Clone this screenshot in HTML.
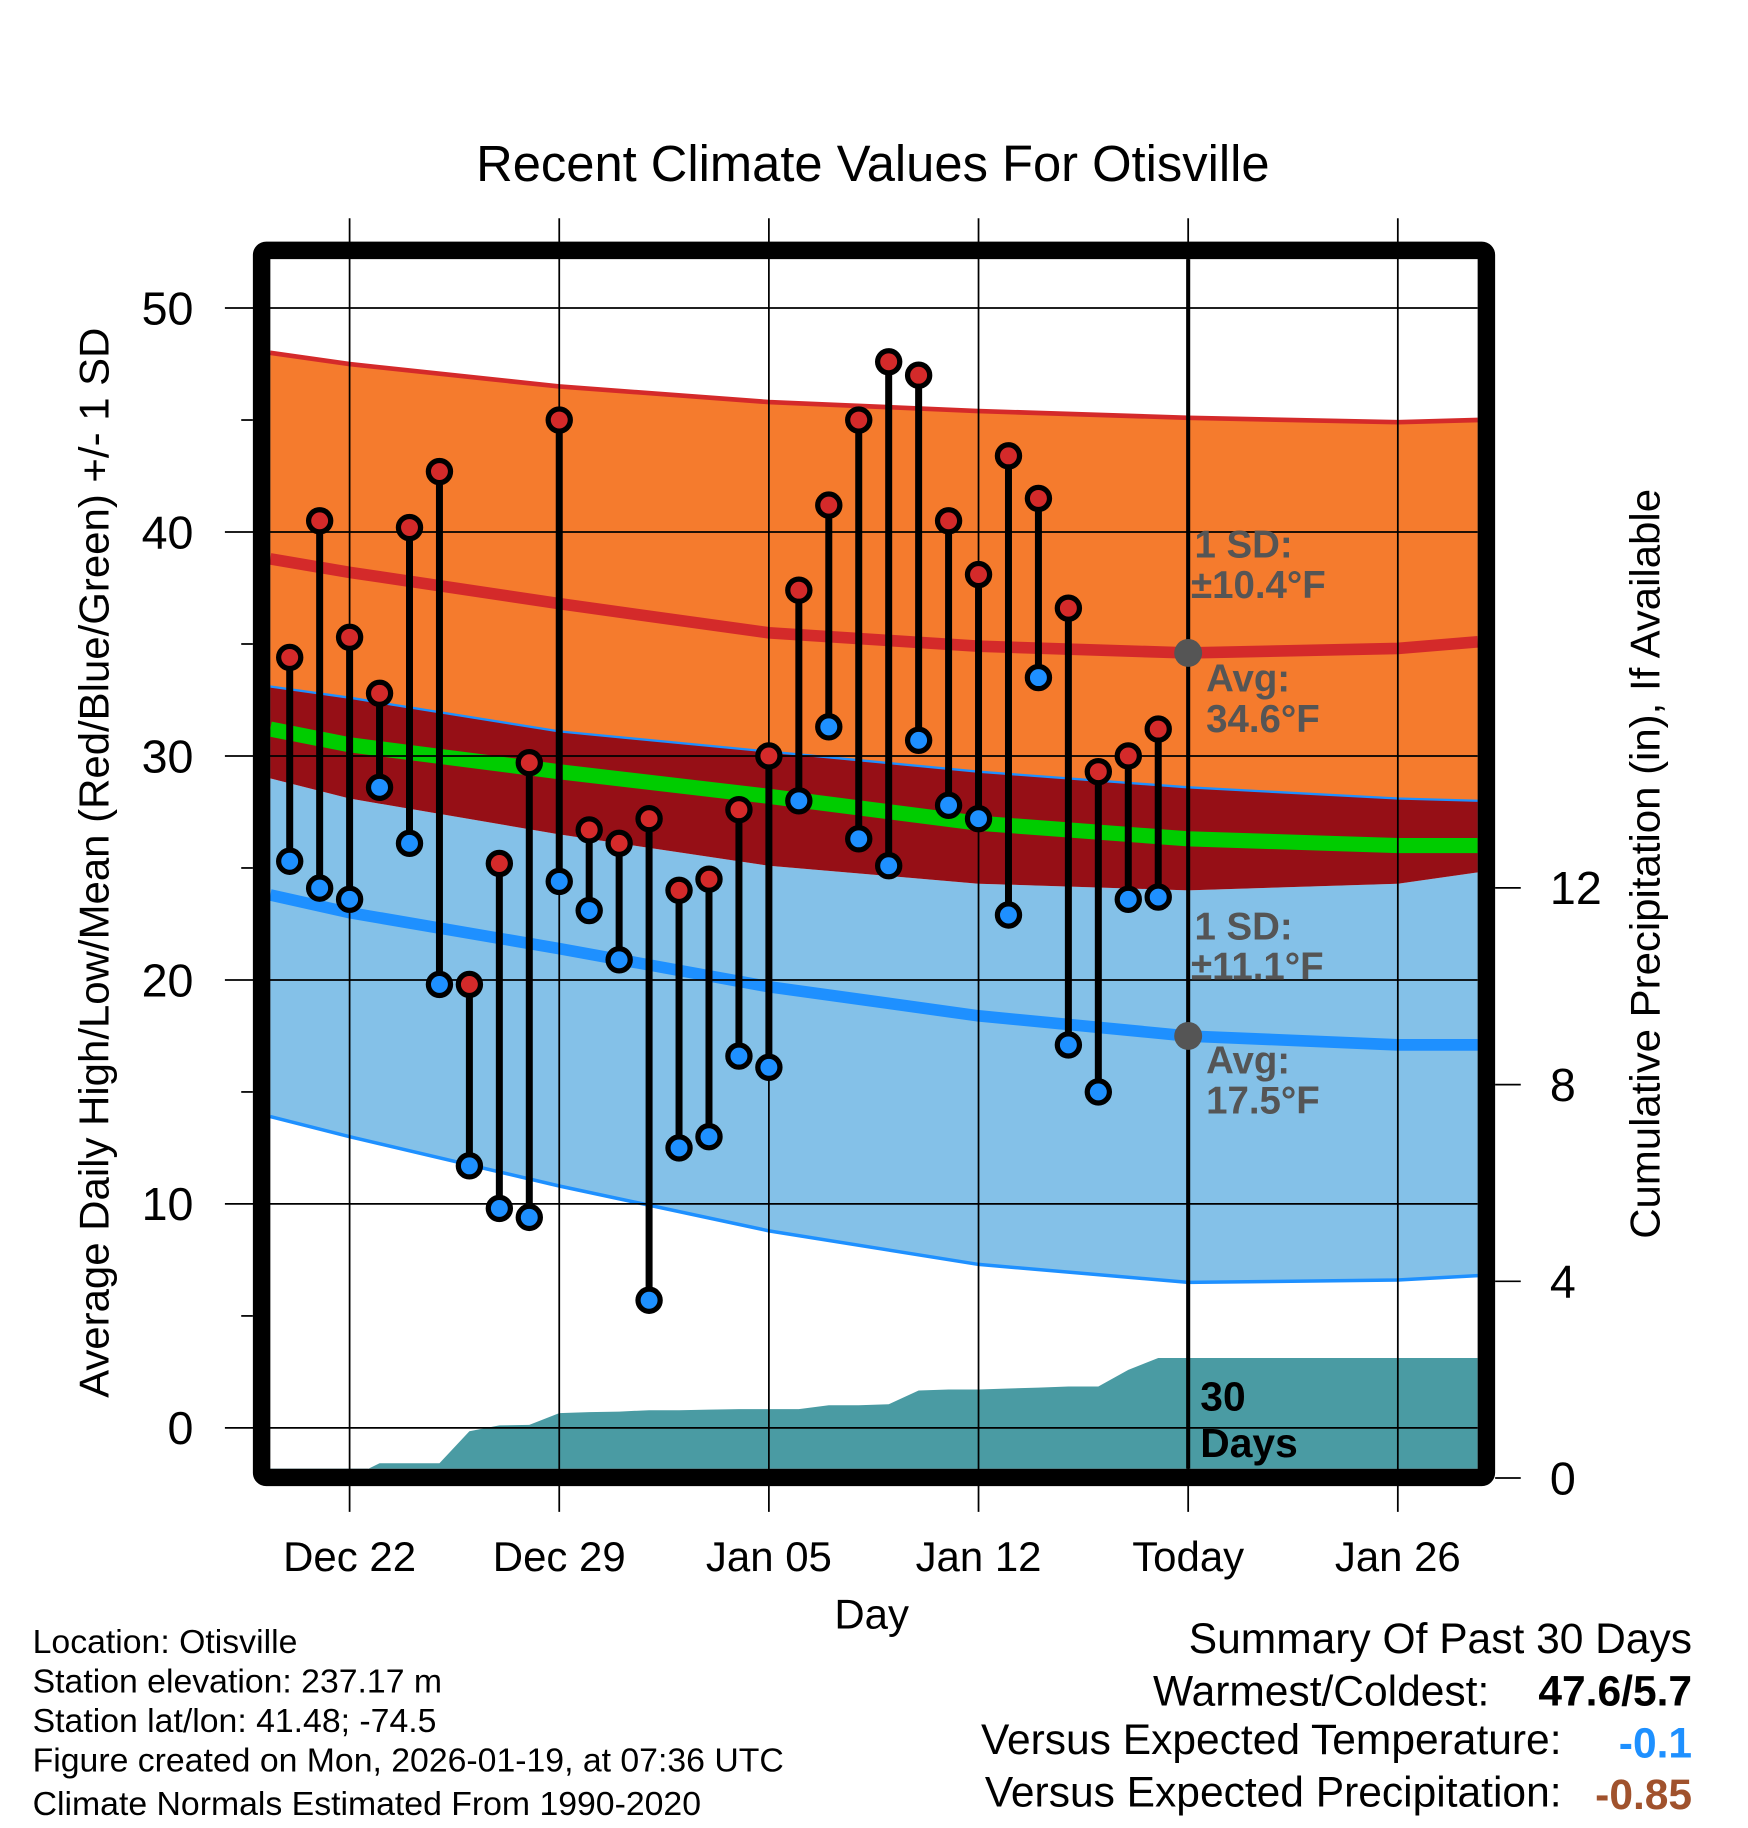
<!DOCTYPE html>
<html><head><meta charset="utf-8"><style>
html,body{margin:0;padding:0;background:#fff}
svg{display:block}
text{font-family:"Liberation Sans",sans-serif}
</style></head><body>
<svg id="chart" width="1748" height="1828" viewBox="0 0 1500 1568" xmlns="http://www.w3.org/2000/svg">
<g id="bands"></g>
<g id="precip"></g>
<g id="grid"></g>
<g id="marks"></g>
<text x="749" y="155" font-size="43.5" text-anchor="middle">Recent Climate Values For Otisville</text>
<text transform="translate(93,740) rotate(-90)" font-size="36" text-anchor="middle">Average Daily High/Low/Mean (Red/Blue/Green) +/- 1 SD</text>
<text transform="translate(1424,741) rotate(-90)" font-size="36" text-anchor="middle">Cumulative Precipitation (in), If Available</text>
<text x="748" y="1397" font-size="36" text-anchor="middle">Day</text>
<g fill="#555" font-weight="bold" font-size="33">
<text x="1025" y="478">1 SD:</text><text x="1022" y="513">±10.4°F</text>
<text x="1035" y="593">Avg:</text><text x="1035" y="628">34.6°F</text>
<text x="1025" y="806">1 SD:</text><text x="1022" y="840">±11.1°F</text>
<text x="1035" y="921">Avg:</text><text x="1035" y="955">17.5°F</text>
</g>
<g font-weight="bold" font-size="35"><text x="1030" y="1210">30</text><text x="1030" y="1250">Days</text></g>
<g font-size="29">
<text x="28" y="1418">Location: Otisville</text>
<text x="28" y="1452">Station elevation: 237.17 m</text>
<text x="28" y="1486">Station lat/lon: 41.48; -74.5</text>
<text x="28" y="1520">Figure created on Mon, 2026-01-19, at 07:36 UTC</text>
<text x="28" y="1557">Climate Normals Estimated From 1990-2020</text>
</g>
<g font-size="36.5" text-anchor="end">
<text x="1452" y="1418">Summary Of Past 30 Days</text>
<text x="1278" y="1463">Warmest/Coldest:</text>
<text x="1452" y="1463" font-weight="bold">47.6/5.7</text>
<text x="1340" y="1505">Versus Expected Temperature:</text>
<text x="1452" y="1508" font-weight="bold" fill="#1e90ff">-0.1</text>
<text x="1340" y="1550">Versus Expected Precipitation:</text>
<text x="1452" y="1552" font-weight="bold" fill="#a0522d">-0.85</text>
</g>
</svg>
<script>
const highs=[34.4,40.5,35.3,32.8,40.2,42.7,19.8,25.2,29.7,45.0,26.7,26.1,27.2,24.0,24.5,27.6,30.0,37.4,41.2,45.0,47.6,47.0,40.5,38.1,43.4,41.5,36.6,29.3,30.0,31.2];
const lows=[25.3,24.1,23.6,28.6,26.1,19.8,11.7,9.8,9.4,24.4,23.1,20.9,5.7,12.5,13.0,16.6,16.1,28.0,31.3,26.3,25.1,30.7,27.8,27.2,22.9,33.5,17.1,15.0,23.6,23.7];
const precip=[0,0,0,0.3,0.3,0.3,0.95,1.07,1.08,1.32,1.34,1.35,1.38,1.38,1.39,1.40,1.40,1.40,1.48,1.48,1.50,1.78,1.80,1.80,1.82,1.84,1.86,1.86,2.2,2.44];
const normDays=[-0.65,2,9,16,23,30,37,39.67];
const hiPlus=[48.0,47.5,46.5,45.8,45.4,45.1,44.9,45.0];
const hiMean=[38.8,38.2,36.8,35.5,34.9,34.6,34.8,35.1];
const hiMinus=[33.1,32.6,31.1,30.2,29.3,28.6,28.1,28.0];
const meanT=[31.2,30.5,29.3,28.2,27.0,26.3,26.0,26.0];
const loPlus=[29.0,28.1,26.5,25.1,24.3,24.0,24.3,24.8];
const loMean=[23.8,23.0,21.4,19.7,18.4,17.5,17.1,17.1];
const loMinus=[13.9,13.0,10.8,8.8,7.3,6.5,6.6,6.8];
const xTickDays=[2,9,16,23,30,37];
const xTickLabels=['Dec 22','Dec 29','Jan 05','Jan 12','Today','Jan 26'];
const yTicks=[0,10,20,30,40,50];
const y2Ticks=[0,4,8,12];
const todayAvg=[34.6,17.5];
const todayDay=30;

const NS='http://www.w3.org/2000/svg';
const L=232,R=1268,T=222,B=1260;
const X=d=>248.6+25.7*d;
const Y=v=>1225-19.22*v;
const Y2=v=>1268-42.2*v;
function mk(p,tag,a){const e=document.createElementNS(NS,tag);for(const k in a)e.setAttribute(k,a[k]);p.appendChild(e);return e;}
const pts=(arr)=>arr.map((v,i)=>X(normDays[i]).toFixed(1)+','+Y(v).toFixed(1));
function band(top,bot,fill,name){const p=pts(top).concat(pts(bot).reverse()).join(' ');const e=mk(document.getElementById('bands'),'polygon',{points:p,fill:fill});}
function line(arr,col,w,name){const e=mk(document.getElementById('bands'),'polyline',{points:pts(arr).join(' '),fill:'none',stroke:col,'stroke-width':w});}
band(hiPlus,hiMinus,'#f57b2d','high-sd-band');
band(loPlus,loMinus,'#84c1e8','low-sd-band');
band(hiMinus,loPlus,'#960f16','overlap-band');
line(hiPlus,'#d42a2a',4,'high-plus-sd-line');
line(hiMean,'#d42a2a',10,'high-mean-line');
line(hiMinus,'#1e90ff',2,'high-minus-sd-line');
line(meanT,'#00cc00',13,'mean-line');
line(loMean,'#1e90ff',10,'low-mean-line');
line(loMinus,'#1e90ff',3,'low-minus-sd-line');

(function(){let p=[L+','+B];p.push(L+','+Y2(precip[0]).toFixed(1));precip.forEach((v,i)=>p.push(X(i).toFixed(1)+','+Y2(v).toFixed(1)));p.push(R+','+Y2(precip[precip.length-1]).toFixed(1));p.push(R+','+B);
const e=mk(document.getElementById('precip'),'polygon',{points:p.join(' '),fill:'#4a9ba3'});

})();

const g=document.getElementById('grid');
yTicks.forEach(v=>{mk(g,'line',{x1:193,x2:R,y1:Y(v),y2:Y(v),stroke:'#000','stroke-width':1.5});
const t=mk(g,'text',{x:166,y:Y(v)+14,'font-size':40,'text-anchor':'end'});t.textContent=v;

});
[5,15,25,35,45].forEach(v=>mk(g,'line',{x1:207,x2:217,y1:Y(v),y2:Y(v),stroke:'#000','stroke-width':1.5}));
y2Ticks.forEach(v=>{mk(g,'line',{x1:1283,x2:1305,y1:Y2(v),y2:Y2(v),stroke:'#000','stroke-width':1.5});
const t=mk(g,'text',{x:1330,y:Y2(v)+14,'font-size':40});t.textContent=v;

});
xTickDays.forEach((d,i)=>{mk(g,'line',{x1:X(d),x2:X(d),y1:187,y2:1297,stroke:'#000','stroke-width':1.5});
const t=mk(g,'text',{x:X(d),y:1348,'font-size':36,'text-anchor':'middle'});t.textContent=xTickLabels[i];

});
const tl=mk(g,'line',{x1:X(todayDay),x2:X(todayDay),y1:T,y2:B,stroke:'#000','stroke-width':3.5});


const fr=mk(g,'rect',{x:224.5,y:214.5,width:1051,height:1053,fill:'none',stroke:'#000','stroke-width':15,rx:4});



const m=document.getElementById('marks');
highs.forEach((h,i)=>{const x=X(i);
const ln=mk(m,'line',{x1:x,x2:x,y1:Y(h),y2:Y(lows[i]),stroke:'#000','stroke-width':6});


const c1=mk(m,'circle',{cx:x,cy:Y(h),r:9.5,fill:'#d42a2a',stroke:'#000','stroke-width':4.5});


const c2=mk(m,'circle',{cx:x,cy:Y(lows[i]),r:9.5,fill:'#1e90ff',stroke:'#000','stroke-width':4.5});

});
todayAvg.forEach(v=>{const c=mk(m,'circle',{cx:X(todayDay),cy:Y(v),r:12,fill:'#555'});

});
</script>
</body></html>
